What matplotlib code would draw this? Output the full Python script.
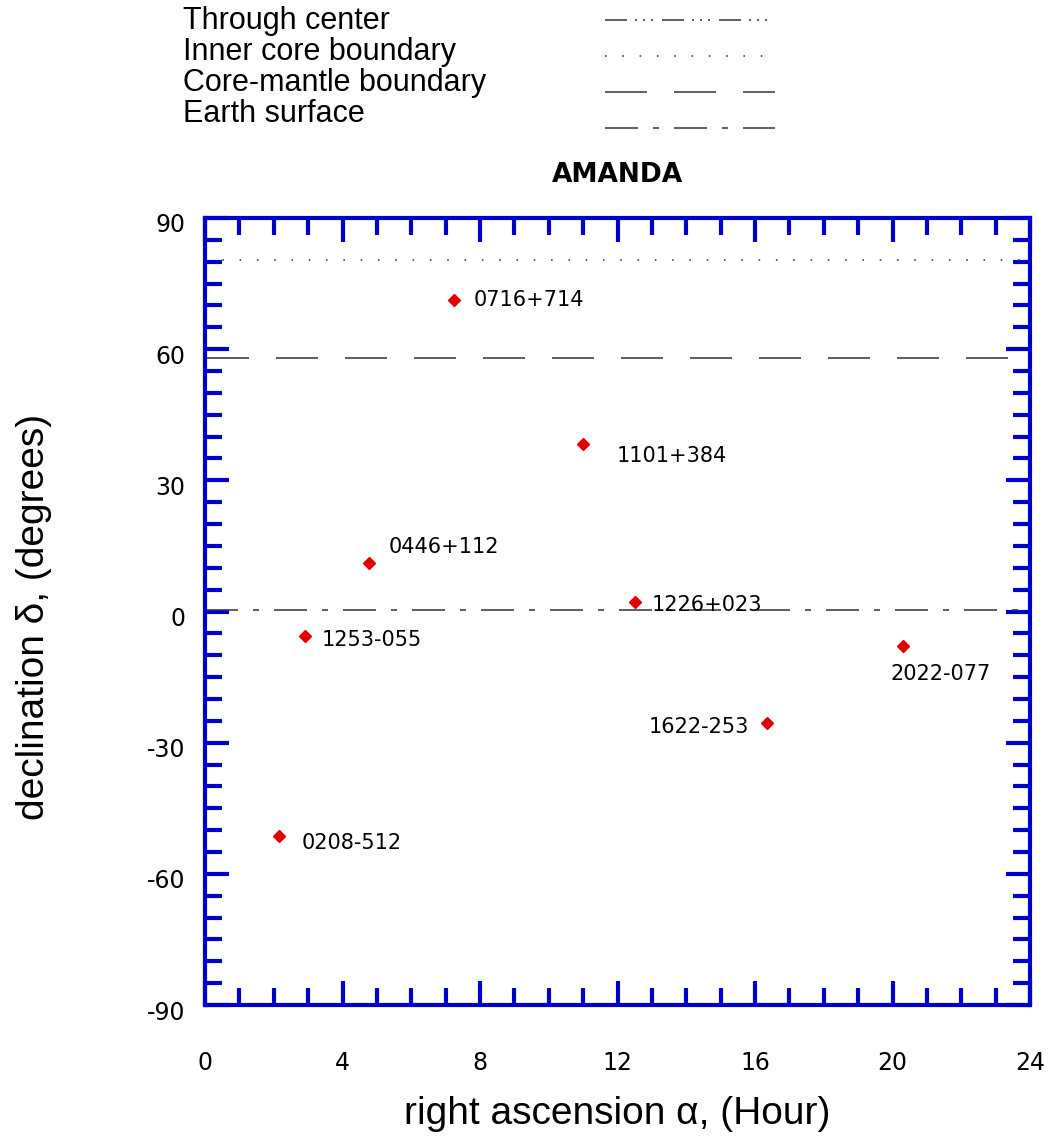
import matplotlib
matplotlib.use("Agg")
import matplotlib.pyplot as plt
import matplotlib.transforms as mtransforms
from matplotlib.lines import Line2D
from matplotlib.ticker import MultipleLocator

# sources seen by AMANDA: right ascension (hour), declination (deg)
names = ["0716+714", "1101+384", "0446+112", "1226+023",
         "1253-055", "2022-077", "1622-253", "0208-512"]
ra = [7.24, 11.0, 4.77, 12.51, 2.91, 20.31, 16.35, 2.15]
dec = [71.2, 38.3, 11.1, 2.2, -5.6, -7.9, -25.5, -51.4]

# boundary lines (declination, deg)
inner_core_dec = 80.3
cmb_dec = 58.0
surface_dec = 0.3

legend_labels = ["Through center", "Inner core boundary",
                 "Core-mantle boundary", "Earth surface"]

plt.rcParams['lines.scale_dashes'] = False
plt.rcParams['axes.unicode_minus'] = False
plt.rcParams['font.family'] = ['Liberation Sans', 'DejaVu Sans']

W, H = 1054, 1141
fig = plt.figure(figsize=(W / 100, H / 100), dpi=100)
ax = fig.add_axes([205 / W, 1 - 1005 / H, 825 / W, 787 / H])

blue = "#0000cc"
grey = "#333333"

px = 0.72  # px -> pt
dash_center = [22 * px, 8 * px, 2 * px, 6 * px, 2 * px, 6 * px, 2 * px, 9 * px]
dash_inner = [1.6 * px, 15.7 * px]
dash_cmb = [42 * px, 27 * px]
dash_surf = [33 * px, 15 * px, 6 * px, 15 * px]

ax.axhline(inner_core_dec, color=grey, lw=1.1, dashes=dash_inner)
ax.axhline(cmb_dec, xmin=0.003, xmax=0.975, color=grey, lw=1.1, dashes=dash_cmb)
ax.axhline(surface_dec, color=grey, lw=1.1, dashes=dash_surf)

ax.plot(ra, dec, ls='none', marker='D', ms=6.5, mfc="#e00000", mec="#e00000")

offsets = [(20, 0, 'left'), (34, -12, 'left'), (20, 16, 'left'), (17, -3, 'left'),
           (17, -4, 'left'), (-13, -28, 'left'), (-18, -4, 'right'), (23, -7, 'left')]
for n, x, y, (dx, dy, ha) in zip(names, ra, dec, offsets):
    ax.annotate(n, (x, y), xytext=(dx, dy), textcoords='offset pixels',
                ha=ha, va='center', fontsize=15, family='DejaVu Sans')

ax.set_xlim(0, 24)
ax.set_ylim(-90, 90)
ax.xaxis.set_major_locator(MultipleLocator(4))
ax.xaxis.set_minor_locator(MultipleLocator(1))
ax.yaxis.set_major_locator(MultipleLocator(30))
ax.yaxis.set_minor_locator(MultipleLocator(5))

for s in ax.spines.values():
    s.set_color(blue)
    s.set_linewidth(3.0)
ax.tick_params(which='both', direction='in', top=True, right=True,
               color=blue, width=3.0)
ax.tick_params(which='major', length=17)
ax.tick_params(which='minor', length=12)
ax.tick_params(axis='x', which='major', pad=33, labelsize=17)
ax.tick_params(axis='y', which='major', pad=14, labelsize=17)
shift = mtransforms.ScaledTranslation(0, -5 / 100, fig.dpi_scale_trans)
for lab in ax.get_xticklabels() + ax.get_yticklabels():
    lab.set_family('DejaVu Sans')
for lab in ax.get_yticklabels():
    lab.set_transform(lab.get_transform() + shift)

ax.set_xlabel("right ascension α, (Hour)", fontsize=28)
ax.set_ylabel("declination δ, (degrees)", fontsize=28)
ax.xaxis.set_label_coords(0.4994, -0.116)
ax.yaxis.set_label_coords(-0.1855, 0.493)

ax.set_title("AMANDA", fontsize=19, fontweight='bold', family='DejaVu Sans', pad=26)

# legend drawn by hand: text on the left, line sample on the right
styles = [dash_center, dash_inner, dash_cmb, dash_surf]
for i, (lab, d) in enumerate(zip(legend_labels, styles)):
    ty = 21 + 31 * i
    ly = 20 + 36 * i
    fig.text(183 / W, 1 - ty / H, lab, fontsize=22, va='center', ha='left')
    fig.add_artist(Line2D([605 / W, 775 / W], [1 - ly / H, 1 - ly / H],
                          transform=fig.transFigure, color=grey, lw=1.1, dashes=d))

fig.savefig("out.png", dpi=100)
